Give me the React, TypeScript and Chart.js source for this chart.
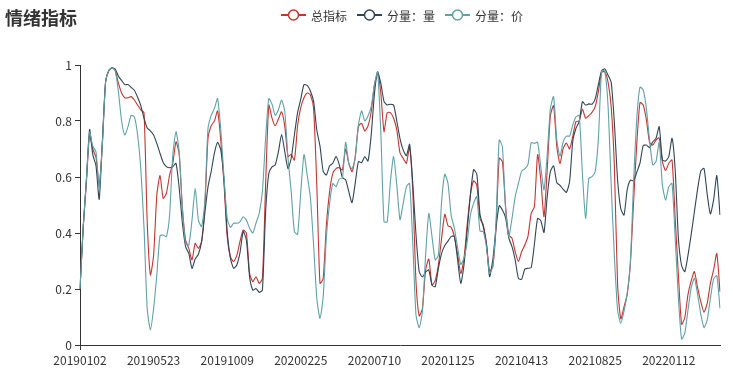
import React, { useEffect, useRef } from 'react';
import { Chart, registerables } from 'chart.js';

Chart.register(...registerables);

const FONT = '"Noto Sans CJK SC", "Noto Sans", sans-serif';

// x-axis tick labels (one every LABEL_STEP sampled points)
const tickLabels = [
  '20190102', '20190523', '20191009', '20200225', '20200710',
  '20201125', '20210413', '20210825', '20220112',
];
const LABEL_STEP = 23;

const seriesNames = ['总指标', '分量：量', '分量：价'];
const seriesColors = ['#c23531', '#2f4554', '#61a0a8'];

// 总指标
const totalIndex = [
  0.20, 0.42, 0.58, 0.75, 0.70, 0.67, 0.57, 0.72, 0.94, 0.98,
  0.99, 0.98, 0.935, 0.90, 0.883, 0.883, 0.887, 0.875, 0.857, 0.84,
  0.83, 0.44, 0.25, 0.32, 0.535, 0.605, 0.524, 0.542, 0.607, 0.649,
  0.726, 0.68, 0.488, 0.375, 0.345, 0.304, 0.363, 0.345, 0.369, 0.49,
  0.738, 0.783, 0.80, 0.836, 0.73, 0.577, 0.387, 0.315, 0.298, 0.32,
  0.37, 0.41, 0.40, 0.256, 0.226, 0.244, 0.22, 0.238, 0.571, 0.857,
  0.81, 0.783, 0.807, 0.833, 0.78, 0.673, 0.68, 0.66, 0.783, 0.849,
  0.883, 0.90, 0.893, 0.845, 0.571, 0.22, 0.238, 0.43, 0.548, 0.613,
  0.63, 0.633, 0.625, 0.70, 0.649, 0.619, 0.673, 0.78, 0.792, 0.764,
  0.782, 0.833, 0.929, 0.97, 0.90, 0.762, 0.83, 0.83, 0.81, 0.768,
  0.686, 0.667, 0.649, 0.708, 0.548, 0.226, 0.104, 0.13, 0.268, 0.307,
  0.214, 0.23, 0.286, 0.381, 0.467, 0.426, 0.42, 0.387, 0.324, 0.255,
  0.31, 0.43, 0.536, 0.586, 0.571, 0.451, 0.43, 0.363, 0.264, 0.28,
  0.417, 0.667, 0.655, 0.494, 0.393, 0.381, 0.333, 0.298, 0.333, 0.357,
  0.389, 0.47, 0.494, 0.68, 0.59, 0.458, 0.625, 0.82, 0.855, 0.708,
  0.648, 0.702, 0.721, 0.70, 0.746, 0.798, 0.80, 0.842, 0.81, 0.819,
  0.831, 0.851, 0.905, 0.974, 0.976, 0.94, 0.85, 0.637, 0.214, 0.093,
  0.136, 0.181, 0.292, 0.512, 0.72, 0.866, 0.857, 0.804, 0.723, 0.714,
  0.732, 0.74, 0.655, 0.623, 0.649, 0.661, 0.452, 0.25, 0.074, 0.098,
  0.181, 0.229, 0.262, 0.205, 0.155, 0.117, 0.149, 0.22, 0.268, 0.327,
  0.19,
];

// 分量：量
const volumePart = [
  0.20, 0.42, 0.59, 0.77, 0.68, 0.64, 0.52, 0.73, 0.94, 0.98,
  0.99, 0.985, 0.96, 0.945, 0.93, 0.93, 0.92, 0.91, 0.885, 0.855,
  0.81, 0.775, 0.765, 0.75, 0.72, 0.685, 0.652, 0.637, 0.633, 0.637,
  0.649, 0.56, 0.435, 0.351, 0.327, 0.274, 0.307, 0.324, 0.369, 0.47,
  0.565, 0.62, 0.685, 0.724, 0.696, 0.59, 0.405, 0.31, 0.274, 0.286,
  0.33, 0.405, 0.375, 0.244, 0.196, 0.202, 0.188, 0.196, 0.476, 0.613,
  0.636, 0.643, 0.69, 0.752, 0.69, 0.63, 0.667, 0.75, 0.83, 0.879,
  0.93, 0.927, 0.907, 0.87, 0.768, 0.71, 0.62, 0.607, 0.64, 0.649,
  0.673, 0.645, 0.598, 0.59, 0.548, 0.508, 0.577, 0.655, 0.651, 0.673,
  0.657, 0.75, 0.895, 0.976, 0.935, 0.87, 0.857, 0.86, 0.857, 0.80,
  0.737, 0.696, 0.676, 0.717, 0.577, 0.393, 0.262, 0.243, 0.26, 0.268,
  0.214, 0.208, 0.274, 0.327, 0.355, 0.371, 0.388, 0.387, 0.304, 0.22,
  0.286, 0.41, 0.536, 0.626, 0.61, 0.467, 0.423, 0.363, 0.244, 0.304,
  0.417, 0.498, 0.482, 0.455, 0.383, 0.351, 0.304, 0.238, 0.235, 0.271,
  0.274, 0.276, 0.36, 0.452, 0.444, 0.402, 0.53, 0.62, 0.64, 0.58,
  0.57, 0.556, 0.545, 0.583, 0.729, 0.774, 0.798, 0.869, 0.857, 0.861,
  0.86, 0.879, 0.931, 0.98, 0.986, 0.964, 0.938, 0.792, 0.589, 0.486,
  0.464, 0.554, 0.589, 0.586, 0.617, 0.65, 0.712, 0.714, 0.705, 0.726,
  0.738, 0.78, 0.661, 0.657, 0.673, 0.738, 0.625, 0.381, 0.283, 0.262,
  0.321, 0.395, 0.476, 0.557, 0.621, 0.631, 0.538, 0.468, 0.518, 0.605,
  0.464,
];

// 分量：价
const pricePart = [
  0.20, 0.42, 0.59, 0.76, 0.71, 0.69, 0.56, 0.72, 0.94, 0.98,
  0.99, 0.98, 0.905, 0.80, 0.75, 0.78, 0.82, 0.815, 0.75, 0.63,
  0.42, 0.13, 0.054, 0.13, 0.25, 0.39, 0.393, 0.387, 0.464, 0.68,
  0.762, 0.69, 0.488, 0.363, 0.357, 0.446, 0.56, 0.446, 0.423, 0.51,
  0.774, 0.82, 0.845, 0.88, 0.768, 0.60, 0.452, 0.42, 0.435, 0.435,
  0.44, 0.458, 0.446, 0.417, 0.40, 0.435, 0.47, 0.548, 0.738, 0.88,
  0.86, 0.82, 0.84, 0.875, 0.833, 0.667, 0.548, 0.405, 0.395, 0.548,
  0.68, 0.607, 0.526, 0.357, 0.167, 0.095, 0.173, 0.387, 0.506, 0.577,
  0.565, 0.593, 0.595, 0.724, 0.649, 0.629, 0.667, 0.786, 0.836, 0.80,
  0.818, 0.851, 0.929, 0.976, 0.762, 0.44, 0.44, 0.583, 0.673, 0.571,
  0.448, 0.506, 0.565, 0.577, 0.363, 0.107, 0.062, 0.119, 0.321, 0.47,
  0.387, 0.304, 0.321, 0.512, 0.61, 0.577, 0.462, 0.417, 0.348, 0.288,
  0.31, 0.369, 0.464, 0.506, 0.53, 0.407, 0.405, 0.351, 0.256, 0.28,
  0.44, 0.732, 0.708, 0.486, 0.387, 0.452, 0.53, 0.577, 0.62, 0.629,
  0.645, 0.723, 0.72, 0.724, 0.637, 0.554, 0.68, 0.845, 0.887, 0.732,
  0.674, 0.726, 0.746, 0.746, 0.786, 0.815, 0.82, 0.613, 0.452, 0.595,
  0.601, 0.619, 0.738, 0.979, 0.979, 0.857, 0.571, 0.315, 0.125, 0.077,
  0.121, 0.185, 0.298, 0.583, 0.81, 0.921, 0.911, 0.845, 0.729, 0.643,
  0.655, 0.724, 0.571, 0.518, 0.565, 0.577, 0.381, 0.167, 0.021, 0.042,
  0.125, 0.205, 0.238, 0.181, 0.11, 0.062, 0.089, 0.167, 0.235, 0.248,
  0.131,
];

const seriesValues = [totalIndex, volumePart, pricePart];

// category labels: tick label at every LABEL_STEP-th sample, blank elsewhere
const categories = totalIndex.map((_, i) =>
  i % LABEL_STEP === 0 && tickLabels[i / LABEL_STEP] ? tickLabels[i / LABEL_STEP] : ''
);

const headerPlugin = {
  id: 'headerLegend',
  afterDraw(chart: any) {
    const ctx = chart.ctx as CanvasRenderingContext2D;
    ctx.save();
    ctx.textAlign = 'left';
    ctx.textBaseline = 'middle';
    ctx.fillStyle = '#333';
    ctx.font = `bold 18px ${FONT}`;
    ctx.fillText('情绪指标', 5, 18);

    ctx.font = `12px ${FONT}`;
    let x = 281;
    const y = 15;
    chart.data.datasets.forEach((ds: any) => {
      const c = ds.borderColor;
      ctx.strokeStyle = c;
      ctx.lineWidth = 2;
      ctx.beginPath();
      ctx.moveTo(x, y);
      ctx.lineTo(x + 25, y);
      ctx.stroke();
      ctx.beginPath();
      ctx.arc(x + 12.5, y, 5, 0, Math.PI * 2);
      ctx.fillStyle = '#fff';
      ctx.fill();
      ctx.lineWidth = 1.5;
      ctx.stroke();
      ctx.fillStyle = '#333';
      ctx.fillText(ds.label, x + 30, y + 1);
      x += 30 + ctx.measureText(ds.label).width + 10;
    });
    ctx.restore();
  },
};

export default function App() {
  const canvasRef = useRef<HTMLCanvasElement | null>(null);

  useEffect(() => {
    if (!canvasRef.current) return;
    const chart = new Chart(canvasRef.current, {
      type: 'line',
      data: {
        labels: categories,
        datasets: seriesValues.map((vals, k) => ({
          label: seriesNames[k],
          data: vals,
          borderColor: seriesColors[k],
          backgroundColor: seriesColors[k],
          borderWidth: 1.1,
          pointRadius: 0,
          pointHoverRadius: 0,
          tension: 0.2,
          fill: false,
          order: 3 - k,
        })),
      },
      options: {
        responsive: false,
        animation: false,
        events: [],
        layout: { padding: { top: 65, right: 13, bottom: 0, left: 0 } },
        plugins: {
          legend: { display: false },
          title: { display: false },
          tooltip: { enabled: false },
        },
        scales: {
          x: {
            type: 'category',
            offset: false,
            border: { display: true, color: '#333', width: 1 },
            grid: {
              display: true,
              drawOnChartArea: false,
              drawTicks: true,
              tickLength: 5,
              lineWidth: 1,
              color: (c: any) => (c.index % LABEL_STEP === 0 ? '#333' : 'rgba(0,0,0,0)'),
            },
            ticks: {
              autoSkip: false,
              maxRotation: 0,
              minRotation: 0,
              padding: 3,
              color: '#333',
              font: { size: 12, family: FONT },
              callback: (_v: any, i: number) =>
                i % LABEL_STEP === 0 ? categories[i] : null,
            },
            afterFit: (s: any) => {
              s.height = 27;
            },
          },
          y: {
            min: 0,
            max: 1,
            border: { display: true, color: '#333', width: 1 },
            grid: {
              display: true,
              drawOnChartArea: false,
              drawTicks: true,
              tickLength: 5,
              color: '#333',
            },
            ticks: {
              stepSize: 0.2,
              padding: 3,
              color: '#333',
              font: { size: 12, family: FONT },
              callback: (v: any) => String(Math.round(Number(v) * 10) / 10),
            },
            afterFit: (s: any) => {
              s.width = 80;
            },
          },
        },
      },
      plugins: [headerPlugin],
    });
    return () => chart.destroy();
  }, []);

  return (
    <div style={{ position: 'absolute', left: 0, top: 0, width: 733, height: 372, background: '#fff' }}>
      <canvas ref={canvasRef} width={733} height={372} style={{ display: 'block' }} />
    </div>
  );
}
